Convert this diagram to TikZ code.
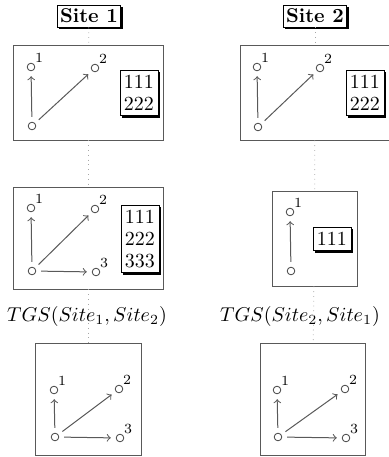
\documentclass[tikz,border=0pt]{standalone}
\usetikzlibrary{positioning,shadows,arrows}
\tikzset{
  panel/.style   = {shape=rectangle, draw=black!65, inner sep=0pt},
  sitebox/.style = {shape=rectangle, draw, fill=white, font=\bfseries,
                    inner xsep=1.5pt, inner ysep=2pt,
                    general shadow={fill=black, shadow xshift=1pt, shadow yshift=-1pt}},
  databox/.style = {sitebox, align=center, inner xsep=2pt, inner ysep=2.5pt,
                    font={\normalfont\fontsize{10}{11}\selectfont}},
  pt/.style      = {circle, draw=black!75, inner sep=0pt, minimum size=3.8pt},
  sup/.style     = {label={[font=\scriptsize, inner sep=0.4pt]north east:#1}},
  link/.style    = {->, >=to, line width=0.5pt, draw=black!65,
                    shorten <=2.5pt, shorten >=2.5pt},
  tie/.style     = {draw=black!35, dotted}
}

\begin{document}
\begin{tikzpicture}[x=0.5pt, y=-0.5pt]
\useasboundingbox (0,0) rectangle (389,457);
% site 1
\node [sitebox] (site1) at (89,16) {Site 1};
\node [panel, minimum width=75pt, minimum height=47.5pt] (p11) at (88,92.5) {};
\node [panel, minimum width=75pt, minimum height=51pt] (p12) at (88,238) {};
\node (tgs1) at (87,316) {$TGS(Site_1,Site_2)$};
\node [panel, minimum width=53pt, minimum height=56pt] (p13) at (88,399) {};
% site 2
\node [sitebox] (site2) at (315,16) {Site 2};
\node [panel, minimum width=75pt, minimum height=47.5pt] (p21) at (315,92.5) {};
\node [panel, minimum width=42.5pt, minimum height=47.5pt] (p22) at (314.5,238.5) {};
\node (tgs2) at (300,316) {$TGS(Site_2,Site_1)$};
\node [panel, minimum width=52.5pt, minimum height=56pt] (p23) at (312.5,399) {};
\draw [tie] (site1) -- (p11);
\draw [tie] (p11) -- (p12);
\draw [tie] (p12) -- (p13);
\draw [tie] (site2) -- (p21);
\draw [tie] (p21) -- (p22);
\draw [tie] (p22) -- (p23);
% panel contents, site 1
\node [pt] (a0) at (32,126) {};
\node [pt, sup=1] (a1) at (31,67) {};
\node [pt, sup=2] (a2) at (95,68) {};
\node [databox] (d11) at (139,93) {111\\222};
\node [pt] (b0) at (32,271) {};
\node [pt, sup=1] (b1) at (31,208) {};
\node [pt, sup=2] (b2) at (95,209) {};
\node [pt, sup=3] (b3) at (96,272) {};
\node [databox] (d12) at (140,239) {111\\222\\333};
\node [pt] (c0) at (55,437) {};
\node [pt, sup=1] (c1) at (54,390) {};
\node [pt, sup=2] (c2) at (119,389) {};
\node [pt, sup=3] (c3) at (120,438) {};
% panel contents, site 2
\node [pt] (e0) at (258,127) {};
\node [pt, sup=1] (e1) at (257,67) {};
\node [pt, sup=2] (e2) at (320,68) {};
\node [databox] (d21) at (365,93) {111\\222};
\node [pt] (f0) at (291,271) {};
\node [pt, sup=1] (f1) at (290,212) {};
\node [databox] (d22) at (332,239) {111};
\node [pt] (g0) at (278,437) {};
\node [pt, sup=1] (g1) at (277,390) {};
\node [pt, sup=2] (g2) at (345,389) {};
\node [pt, sup=3] (g3) at (346,438) {};
% arrows
\foreach \s in {a,b,c,e,g} {
  \draw [link] (\s0) -- (\s1);
  \draw [link] (\s0) -- (\s2);
}
\foreach \s in {b,c,g}
  \draw [link] (\s0) -- (\s3);
\draw [link] (f0) -- (f1);
\end{tikzpicture}
\end{document}
